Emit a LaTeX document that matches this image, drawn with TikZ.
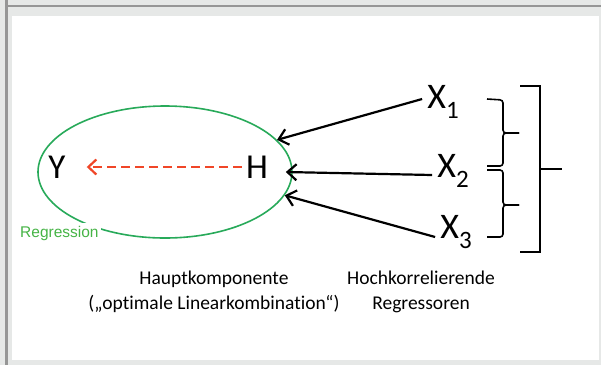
\documentclass[tikz,border=0pt]{standalone}
\usepackage{fontspec}
\setmainfont[Ligatures=NoCommon]{Carlito}
\newfontfamily\arialfont{Liberation Sans}
\usetikzlibrary{shapes.geometric,arrows.meta}
\definecolor{framegray}{RGB}{230,232,231}
\definecolor{linegray}{RGB}{150,150,150}
\definecolor{ellgreen}{RGB}{40,170,90}
\definecolor{txtgreen}{RGB}{70,180,70}
\definecolor{dashred}{RGB}{240,70,40}
\newcommand{\xsub}[1]{X\raisebox{-10pt}{\fontsize{25}{25}\selectfont #1}}
\tikzset{
  bigletter/.style={font=\fontsize{35}{35}\selectfont, inner sep=4pt},
  xnode/.style={font=\fontsize{36}{36}\selectfont, inner sep=5pt},
  feed/.style={line width=2.2pt, -{Straight Barb[length=9pt,width=16pt,line width=2.2pt]}},
  regarrow/.style={line width=2.5pt, dashred, dash pattern=on 9pt off 5pt, -{Straight Barb[length=8pt,width=15pt,line width=2.2pt]}},
  bracestyle/.style={line width=1.6pt, rounded corners=3pt},
  caption/.style={font=\fontsize{19.5}{25}\selectfont, align=center, inner sep=0pt}
}
\begin{document}
\begin{tikzpicture}[x=1pt,y=-1pt]
\useasboundingbox (0,0) rectangle (601,365);
% frame
\fill[framegray] (0,0) rectangle (601,365);
\fill[white] (12,16) rectangle (599,360);
\fill[linegray] (5,0) rectangle (7.5,365);
\fill[linegray] (5,4.5) rectangle (601,7);
% ellipse
\node[ellipse, draw=ellgreen, line width=1.6pt, minimum width=254pt, minimum height=132pt] (E) at (165,172) {};
% label
\node[fill=white, text=txtgreen, font=\arialfont\fontsize{15.5}{15.5}\selectfont, inner xsep=2pt, inner ysep=3pt, anchor=west] (reg) at (18,233) {Regression};
% nodes
\node[bigletter] (Y) at (57,167) {Y};
\node[bigletter] (H) at (257,167) {H};
\node[xnode] (x1) at (443,102) {\xsub{1}};
\node[xnode] (x2) at (453,171) {\xsub{2}};
\node[xnode] (x3) at (456,232) {\xsub{3}};
% arrows
\draw[regarrow] (H.west) -- ([xshift=17pt]Y.east);
\draw[feed] ([yshift=3pt]x1.west) -- (E.16);
\draw[feed] ([yshift=-4pt]x2.west) -- ([xshift=-7pt]E.0);
\draw[feed] ([yshift=-5pt]x3.west) -- (E.-11);
% braces
\draw[bracestyle] (487,99) -- (503,100) -- (503,133) -- (519,133);
\draw[bracestyle] (519,133) -- (503,133) -- (503,166) -- (487,166);
\draw[bracestyle] (487,170) -- (503,170) -- (503,205) -- (519,205);
\draw[bracestyle] (519,205) -- (503,205) -- (503,237) -- (487,237);
\draw[line width=2pt] (520,86) -- (540,86) -- (540,252) -- (520,252);
\draw[line width=2pt] (540,169) -- (562,169);
% captions
\node[caption] (cap1) at (214,292) {Hauptkomponente\\(„optimale Linearkombination“)};
\node[caption] (cap2) at (421,292) {Hochkorrelierende\\Regressoren};
\end{tikzpicture}
\end{document}
